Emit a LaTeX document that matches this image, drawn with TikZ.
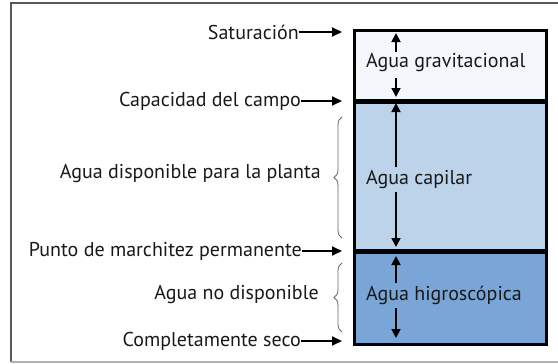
\documentclass[tikz,border=0pt]{standalone}
\usepackage{fontspec}
\setmainfont{PT Sans}
\usetikzlibrary{arrows.meta,decorations.pathreplacing}
\definecolor{gravc}{RGB}{243,246,251}
\definecolor{capic}{RGB}{189,211,234}
\definecolor{higroc}{RGB}{121,166,214}
\definecolor{framec}{RGB}{90,90,90}
\definecolor{txtc}{RGB}{25,25,25}
\tikzset{
  lbl/.style={font=\fontsize{20}{22}\selectfont, text=txtc, inner sep=0pt},
  inlbl/.style={font=\fontsize{20}{22}\selectfont, text=txtc, inner sep=0pt, anchor=west},
  zone/.style={draw=black, line width=3pt, anchor=north west, inner sep=0pt, minimum width=192pt},
  ptr/.style={line width=1.8pt, -{Triangle[length=10pt,width=9pt]}},
  inarr/.style={line width=1.8pt, -{Triangle[length=9pt,width=9pt]}},
  br/.style={draw=gray!80!black, line width=0.8pt, decorate, decoration={brace, amplitude=8pt}}
}
\begin{document}
\begin{tikzpicture}[x=1pt,y=-1pt]
\useasboundingbox (0,0) rectangle (558,364);
% frame
\draw[framec, line width=2pt] (11,362) -- (11,3) -- (560,3);
\draw[gray!60, line width=1.2pt] (11,362) -- (560,362);
% zones
\node[zone, fill=gravc, minimum height=70pt] (grav) at (353,29) {};
\node[zone, fill=capic, minimum height=152pt] (capi) at (353,99) {};
\node[zone, fill=higroc, minimum height=92pt] (higro) at (353,251) {};
\draw[line width=4pt] (grav.south west) -- (grav.south east);
\draw[line width=4pt] (higro.north west) -- (higro.north east);
% inner labels
\node[inlbl] (tgrav) at (366,63) {Agua gravitacional};
\node[inlbl] (tcapi) at (366,180) {Agua capilar};
\node[inlbl] (thigro) at (366,295) {Agua higroscópica};
\coordinate (ga) at (396,33); \coordinate (gb) at (396,52);
\coordinate (gc) at (396,78); \coordinate (gd) at (396,97);
\draw[inarr] (gb) -- (ga); \draw[inarr] (gc) -- (gd);
\coordinate (ca) at (396,103); \coordinate (cb) at (396,167);
\coordinate (cc) at (396,192); \coordinate (cd) at (396,247);
\draw[inarr] (cb) -- (ca); \draw[inarr] (cc) -- (cd);
\coordinate (ha) at (396,256); \coordinate (hb) at (396,283);
\coordinate (hc) at (396,308); \coordinate (hd) at (396,338);
\draw[inarr] (hb) -- (ha); \draw[inarr] (hc) -- (hd);
% left labels with arrows
\node[lbl, anchor=east] (sat) at (299,32) {Saturación};
\node[lbl, anchor=east] (cap) at (301,101) {Capacidad del campo};
\node[lbl, anchor=east] (pmp) at (302,251) {Punto de marchitez permanente};
\node[lbl, anchor=east] (seco) at (301,341) {Completamente seco};
\coordinate (satE) at (342,32);
\coordinate (capE) at (342,101);
\coordinate (pmpE) at (342,251);
\coordinate (secoE) at (342,341);
\draw[ptr] (sat.east) -- (satE);
\draw[ptr] (cap.east) -- (capE);
\draw[ptr] (pmp.east) -- (pmpE);
\draw[ptr] (seco.east) -- (secoE);
% braces
\node[lbl, anchor=east] (adp) at (321,174) {Agua disponible para la planta};
\node[lbl, anchor=east] (and) at (319,295) {Agua no disponible};
\coordinate (b1t) at (342,117); \coordinate (b1b) at (342,238);
\coordinate (b2t) at (342,263); \coordinate (b2b) at (342,332);
\draw[br] (b1b) -- (b1t);
\draw[br] (b2b) -- (b2t);
\end{tikzpicture}
\end{document}
